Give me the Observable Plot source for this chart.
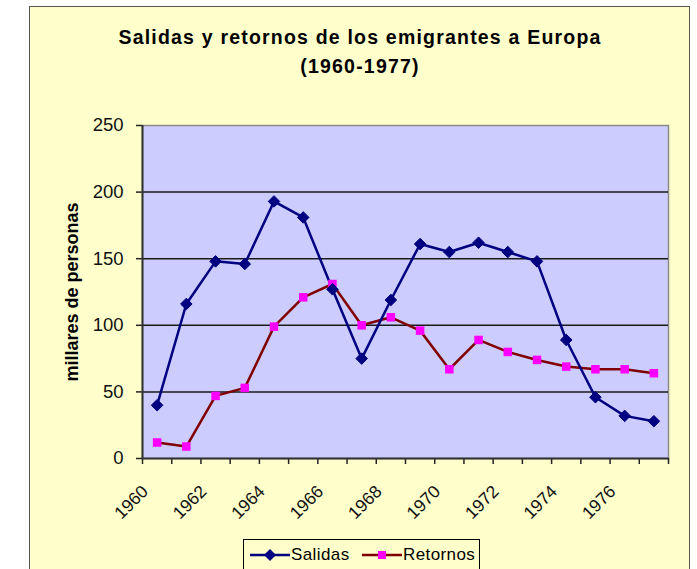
<!DOCTYPE html>
<html>
<head>
<meta charset="utf-8">
<script src="https://cdn.jsdelivr.net/npm/d3@7"></script>
<script src="https://cdn.jsdelivr.net/npm/@observablehq/plot@0.6"></script>
<style>
  body { margin: 0; background: #ffffff; }
  #wrap { position: relative; width: 697px; height: 569px; overflow: hidden; font-family: "Liberation Sans", Arial, sans-serif; color: #000; }
  #box { position: absolute; left: 29px; top: 6px; width: 661px; height: 600px; background: #ffffcc; border: 1.5px solid #555; box-sizing: border-box; }
  .title { position: absolute; left: 0; width: 720px; text-align: center; font-weight: bold; font-size: 19.5px; letter-spacing: 1.2px; line-height: 19.5px; white-space: nowrap; }
  #chart { position: absolute; left: 0; top: 100px; }
  #legend { position: absolute; left: 243px; top: 539px; width: 237px; height: 40px; border: 1px solid #000; box-sizing: border-box; background: #ffffcc; font-size: 17px; letter-spacing: 0.4px; }
  .item { position: absolute; top: 4px; height: 22px; display: flex; align-items: center; white-space: nowrap; }
  .item svg { margin-right: 1px; }
</style>
</head>
<body>
<div id="wrap">
  <div id="box"></div>
  <div class="title" id="t1" style="top:28px"></div>
  <div class="title" id="t2" style="top:57px"></div>
  <div id="chart"></div>
  <div id="legend"></div>
</div>
<script>
// ---- data ----
const titleLines = ["Salidas y retornos de los emigrantes a Europa", "(1960-1977)"];
const yLabel = "millares de personas";
const years = [1960, 1961, 1962, 1963, 1964, 1965, 1966, 1967, 1968, 1969, 1970, 1971, 1972, 1973, 1974, 1975, 1976, 1977];
const salidas = [40, 116, 148, 146, 193, 181, 127, 75, 119, 161, 155, 162, 155, 148, 89, 46, 32, 28];
const retornos = [12, 9, 47, 53, 99, 121, 131, 100, 106, 96, 67, 89, 80, 74, 69, 67, 67, 64];
const seriesNames = ["Salidas", "Retornos"];
const xTickLabels = [1960, 1962, 1964, 1966, 1968, 1970, 1972, 1974, 1976];
const yTicks = [0, 50, 100, 150, 200, 250];
const yGrid = [50, 100, 150, 200];

const colors = { Salidas: "#000080", Retornos: "#800000" };
const markerFill = { Salidas: "#000080", Retornos: "#ff00ff" };

document.getElementById("t1").textContent = titleLines[0];
document.getElementById("t2").textContent = titleLines[1];

const rows = [];
years.forEach((yr, i) => {
  rows.push({ year: yr, value: salidas[i], serie: seriesNames[0] });
  rows.push({ year: yr, value: retornos[i], serie: seriesNames[1] });
});
const sal = rows.filter(d => d.serie === "Salidas");
const ret = rows.filter(d => d.serie === "Retornos");
const bounds = d3.range(years[0] - 0.5, years[years.length - 1] + 1, 1);

const chart = Plot.plot({
  width: 697,
  height: 430,
  marginLeft: 142,
  marginRight: 29,
  marginTop: 25,
  marginBottom: 72,
  style: { fontFamily: "Liberation Sans, Arial, sans-serif", background: "transparent", color: "#000" },
  x: { type: "linear", domain: [years[0] - 0.5, years[years.length - 1] + 0.5] },
  y: { domain: [0, 250] },
  marks: [
    Plot.frame({ fill: "#ccccff", stroke: "#8a8a8a", strokeWidth: 1.5 }),
    Plot.ruleY(yGrid, { stroke: "#1a1a1a", strokeWidth: 1.5 }),
    Plot.axisY(yTicks, { tickSize: 6, tickPadding: 13, fontSize: 18.5, label: null, stroke: "#222", strokeWidth: 1.5, fill: "#111" }),
    Plot.axisX(bounds, { tickSize: 6, tickFormat: () => "", label: null, stroke: "#222", strokeWidth: 1.5 }),
    Plot.ruleX([years[0] - 0.5], { stroke: "#333", strokeWidth: 2 }),
    Plot.ruleY([0], { stroke: "#333", strokeWidth: 2 }),
    Plot.text(xTickLabels, { x: d => d, frameAnchor: "bottom", rotate: -45, textAnchor: "end", dx: -8, dy: 34, fontSize: 17.5, fill: "#111", text: d => String(d) }),
    Plot.text([yLabel], { frameAnchor: "left", textAnchor: "middle", dx: -70, rotate: -90, fontSize: 18, fontWeight: "bold", fill: "#000" }),
    Plot.line(ret, { x: "year", y: "value", stroke: colors.Retornos, strokeWidth: 2.5 }),
    Plot.line(sal, { x: "year", y: "value", stroke: colors.Salidas, strokeWidth: 2.5 }),
    Plot.dot(ret, { x: "year", y: "value", symbol: "square", r: 4.8, fill: markerFill.Retornos, stroke: "none" }),
    Plot.dot(sal, { x: "year", y: "value", symbol: "diamond2", r: 5.2, fill: markerFill.Salidas, stroke: markerFill.Salidas, strokeWidth: 1 })
  ]
});
document.getElementById("chart").appendChild(chart);

// legend
const legend = document.getElementById("legend");
const positions = { Salidas: 6, Retornos: 118 };
seriesNames.forEach(name => {
  const item = document.createElement("div");
  item.className = "item";
  item.style.left = positions[name] + "px";
  const marker = name === "Salidas"
    ? `<path d="M20,4 L26,10 L20,16 L14,10 Z" fill="${markerFill[name]}"/>`
    : `<rect x="16" y="6" width="8" height="8" fill="${markerFill[name]}"/>`;
  item.innerHTML = `<svg width="40" height="20"><line x1="0" y1="10" x2="40" y2="10" stroke="${colors[name]}" stroke-width="2.5"/>${marker}</svg><span>${name}</span>`;
  legend.appendChild(item);
});
</script>
</body>
</html>
